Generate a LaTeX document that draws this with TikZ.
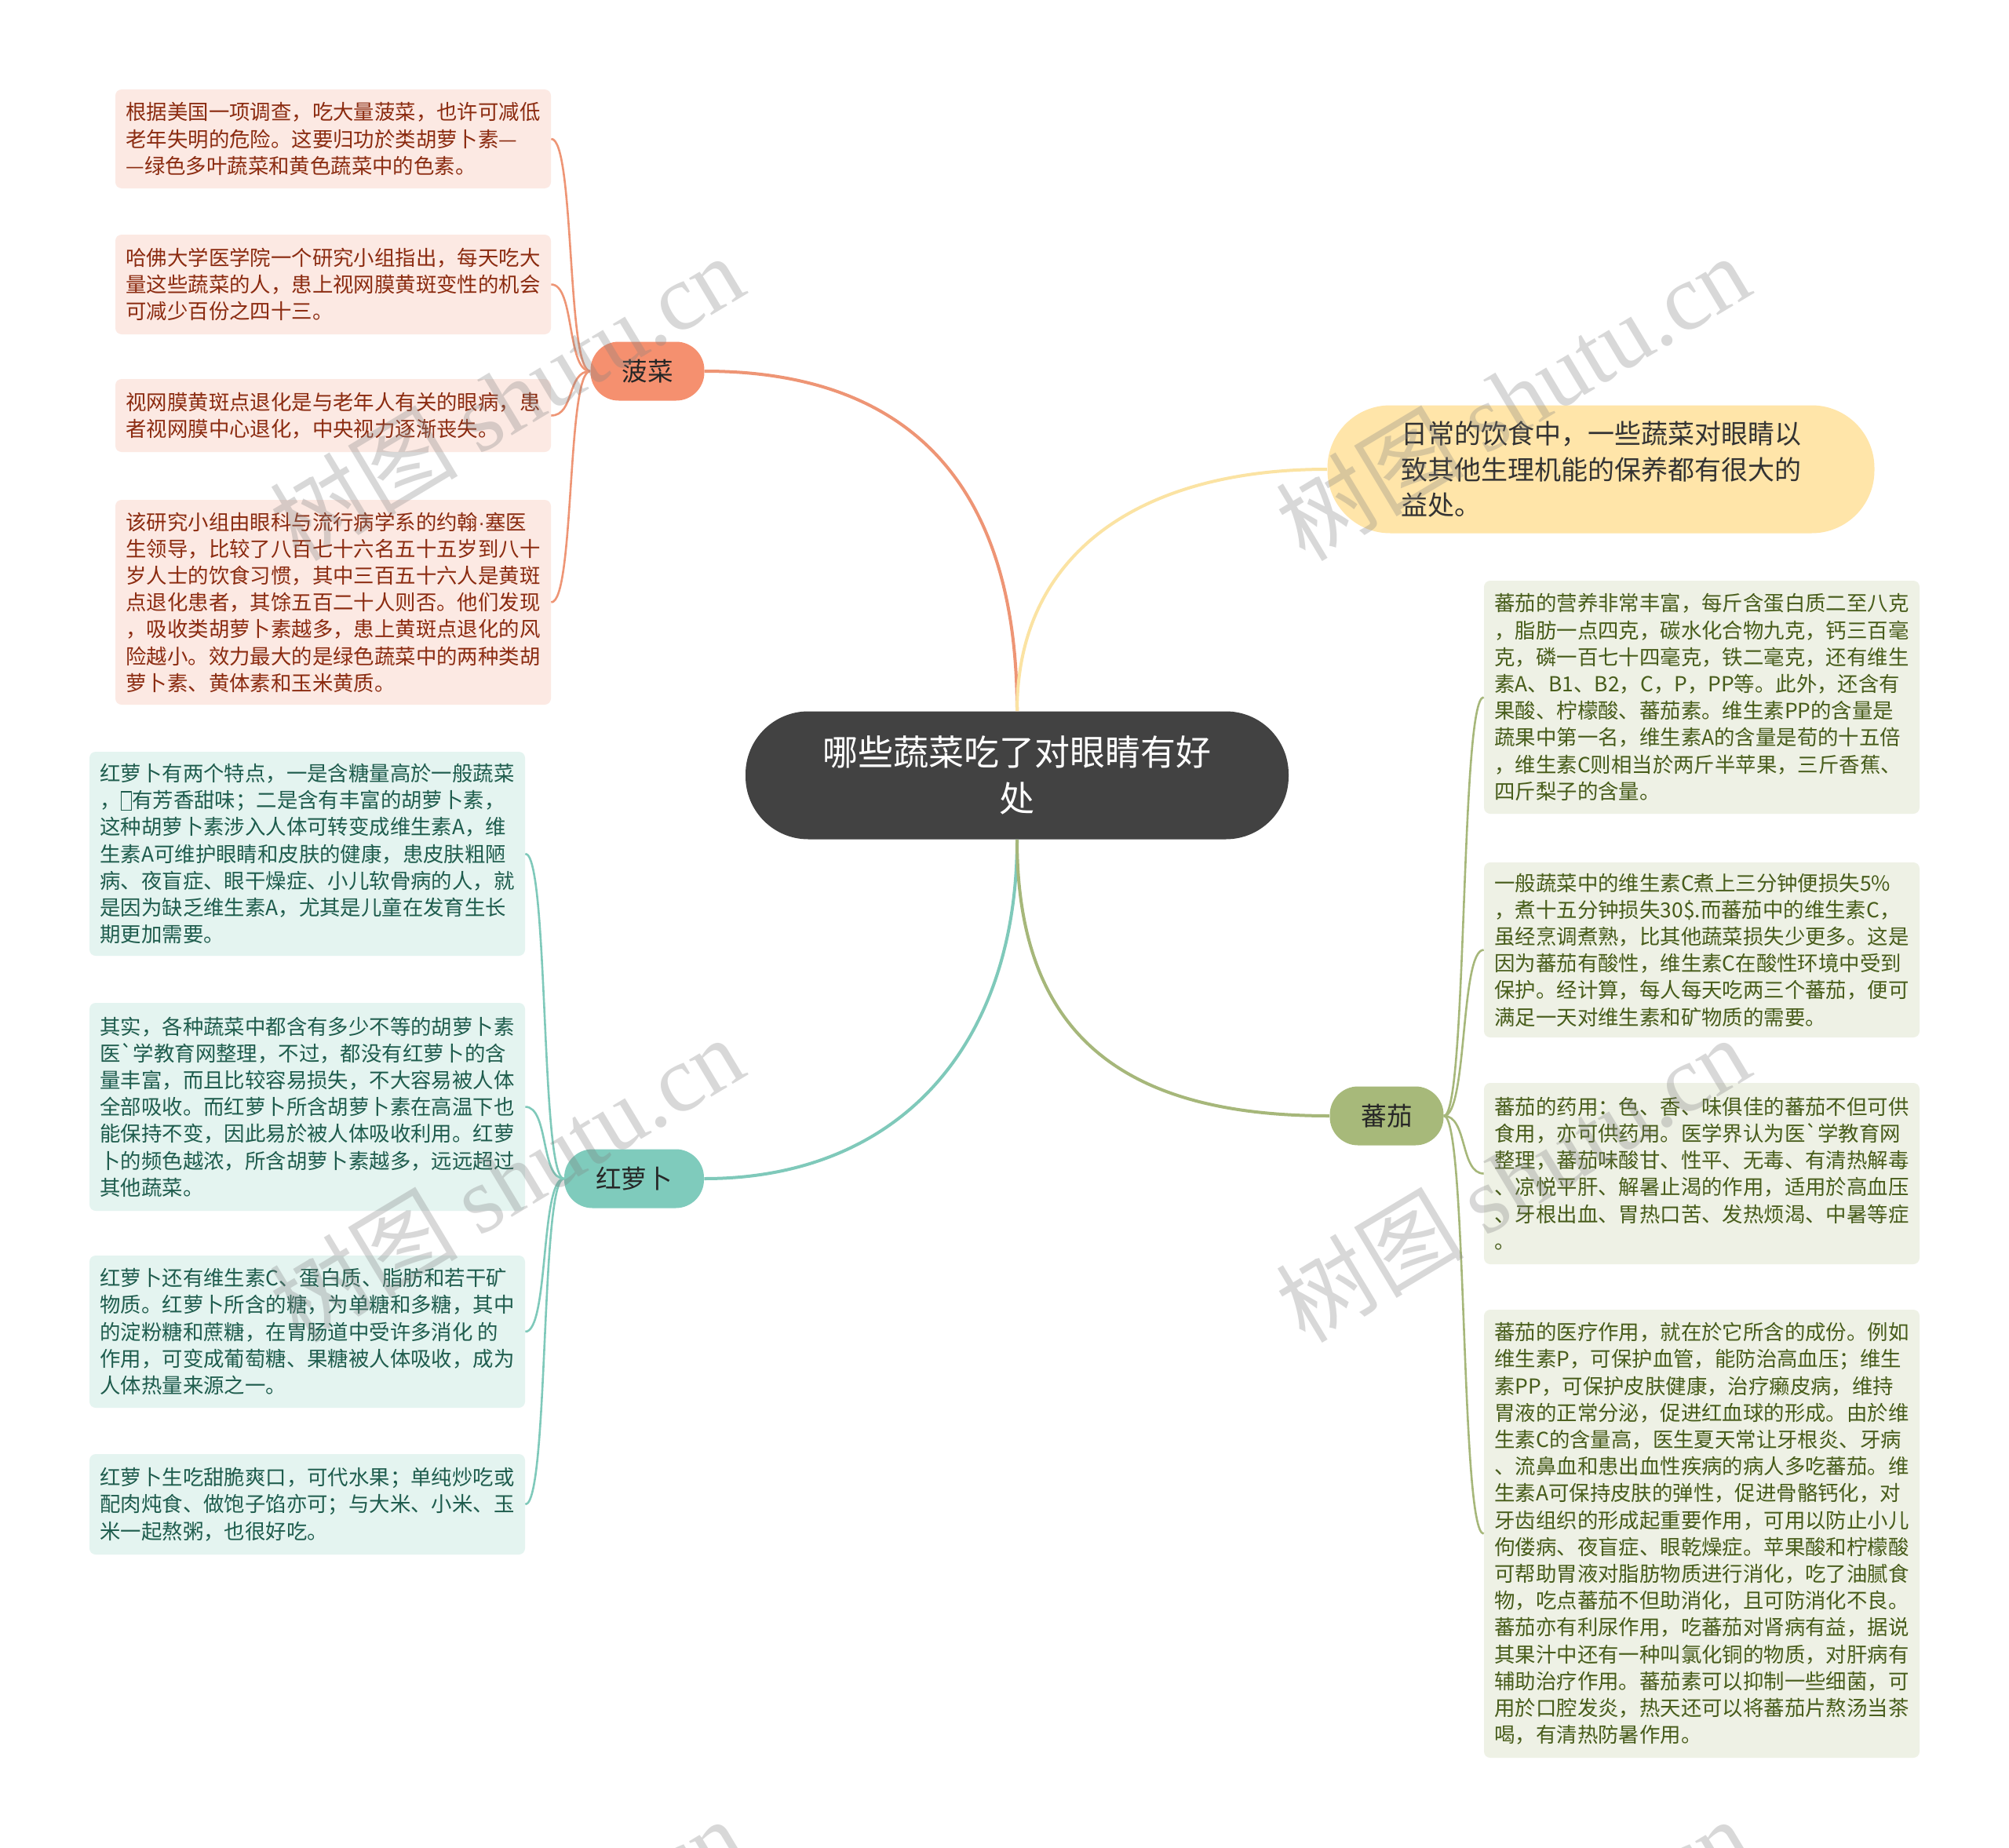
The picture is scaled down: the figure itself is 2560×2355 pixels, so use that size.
\documentclass[tikz,border=0pt]{standalone}
\usepackage{fontspec}
\setmainfont{Noto Sans CJK SC}[Ligatures=TeXOff]
\newfontfamily\wmfont{Liberation Serif}
\newfontfamily\latinfont{Liberation Sans}
\usepackage{xcolor}
\usepackage{tikz}

\definecolor{spinach}{HTML}{F5906F}
\definecolor{spinline}{HTML}{EE9575}
\definecolor{spinfill}{HTML}{FCE9E3}
\definecolor{spintext}{HTML}{8B2B10}
\definecolor{carrot}{HTML}{7FCBBC}
\definecolor{carrline}{HTML}{7FC9BA}
\definecolor{carrfill}{HTML}{E4F4F0}
\definecolor{carrtext}{HTML}{1E5C4D}
\definecolor{tomato}{HTML}{A7B97A}
\definecolor{tomline}{HTML}{A6B77A}
\definecolor{tomfill}{HTML}{EEF1E5}
\definecolor{tomtext}{HTML}{475C1A}
\definecolor{hubfill}{HTML}{424242}
\definecolor{notefill}{HTML}{FFE5A9}
\definecolor{noteline}{HTML}{FBE3A3}

\newcommand{\leaffont}{\fontsize{13.2pt}{17.1pt}\selectfont}
\newcommand{\hubfont}{\fontsize{22.5pt}{29.4pt}\selectfont}
\newcommand{\notefont}{\fontsize{17pt}{22.9pt}\selectfont}
\newcommand{\topicfont}{\fontsize{16.3pt}{20pt}\selectfont}
\newcommand{\tofu}{{\setlength{\fboxsep}{0pt}\setlength{\fboxrule}{0.6pt}\raisebox{-1pt}{\fbox{\rule{0pt}{11pt}\hspace{6pt}}}}}

\begin{document}
\begin{tikzpicture}[
  x=0.5pt, y=-0.5pt,
  hub/.style={fill=hubfill, text=white, rounded corners=40pt, minimum width=346pt,
              minimum height=81.5pt, align=center, font=\hubfont},
  note/.style={fill=notefill, text=black!80, rounded corners=40pt, minimum width=348.5pt,
               minimum height=81.5pt, align=left, font=\notefont},
  topic/.style={rounded corners=18pt, minimum height=37.5pt, inner xsep=0pt,
                text=black!85, font=\topicfont},
  spleaf/.style={fill=spinfill, text=spintext, rounded corners=4pt, minimum width=277.5pt,
                 align=left, font=\leaffont},
  caleaf/.style={fill=carrfill, text=carrtext, rounded corners=4pt, minimum width=277.5pt,
                 align=left, font=\leaffont},
  toleaf/.style={fill=tomfill, text=tomtext, rounded corners=4pt, minimum width=277.5pt,
                 align=left, font=\leaffont},
  link/.style={line width=2pt},
  twig/.style={line width=1.3pt},
  wmark/.style={text=gray, opacity=0.3, rotate=31, font=\fontsize{60pt}{60pt}\selectfont}
]
\fill[white] (0,0) rectangle (2560,2355);
\useasboundingbox (0,0) rectangle (2560,2355);
% centre and main topics
\node[hub] (hub) at (1296,988) {哪些蔬菜吃了对眼睛有好\\处};
\node[note] (note) at (2040,598) {日常的饮食中，一些蔬菜对眼睛以\\致其他生理机能的保养都有很大的\\益处。};
\node[topic, fill=spinach, minimum width=72.5pt] (spinach) at (825,473) {菠菜};
\node[topic, fill=carrot, minimum width=89pt] (carrot) at (808,1502) {红萝卜};
\node[topic, fill=tomato, minimum width=72.5pt] (tomato) at (1767,1422) {蕃茄};
\draw[link, draw=spinline] (hub.north) .. controls +(0,-300) and +(250,0) .. (spinach.east);
\draw[link, draw=noteline] (hub.north) .. controls +(0,-200) and +(-240,0) .. (note.west);
\draw[link, draw=carrline] (hub.south) .. controls +(0,260) and +(250,0) .. (carrot.east);
\draw[link, draw=tomline] (hub.south) .. controls +(0,260) and +(-250,0) .. (tomato.west);
% spinach leaves
\node[spleaf, minimum height=63pt] (s1) at (424.5,177) {根据美国一项调查，吃大量菠菜，也许可减低\\老年失明的危险。这要归功於类胡萝卜素—\\—绿色多叶蔬菜和黄色蔬菜中的色素。};
\node[spleaf, minimum height=63.5pt] (s2) at (424.5,362.5) {哈佛大学医学院一个研究小组指出，每天吃大\\量这些蔬菜的人，患上视网膜黄斑变性的机会\\可减少百份之四十三。};
\node[spleaf, minimum height=46.5pt] (s3) at (424.5,529.5) {视网膜黄斑点退化是与老年人有关的眼病，患\\者视网膜中心退化，中央视力逐渐丧失。};
\node[spleaf, minimum height=130.5pt] (s4) at (424.5,767.5) {该研究小组由眼科与流行病学系的约翰{\latinfont ·}塞医\\生领导，比较了八百七十六名五十五岁到八十\\岁人士的饮食习惯，其中三百五十六人是黄斑\\点退化患者，其馀五百二十人则否。他们发现\\，吸收类胡萝卜素越多，患上黄斑点退化的风\\险越小。效力最大的是绿色蔬菜中的两种类胡\\萝卜素、黄体素和玉米黄质。};
\draw[twig, draw=spinline] (spinach.west) .. controls +(-30,0) and +(30,0) .. (s1.east);
\draw[twig, draw=spinline] (spinach.west) .. controls +(-30,0) and +(30,0) .. (s2.east);
\draw[twig, draw=spinline] (spinach.west) .. controls +(-30,0) and +(30,0) .. (s3.east);
\draw[twig, draw=spinline] (spinach.west) .. controls +(-30,0) and +(30,0) .. (s4.east);
% carrot leaves
\node[caleaf, minimum height=130pt] (c1) at (391.5,1088) {红萝卜有两个特点，一是含糖量高於一般蔬菜\\，\tofu 有芳香甜味；二是含有丰富的胡萝卜素，\\这种胡萝卜素涉入人体可转变成维生素A，维\\生素A可维护眼睛和皮肤的健康，患皮肤粗陋\\病、夜盲症、眼干燥症、小儿软骨病的人，就\\是因为缺乏维生素A，尤其是儿童在发育生长\\期更加需要。};
\node[caleaf, minimum height=132.5pt] (c2) at (391.5,1410.5) {其实，各种蔬菜中都含有多少不等的胡萝卜素\\医`学教育网整理，不过，都没有红萝卜的含\\量丰富，而且比较容易损失，不大容易被人体\\全部吸收。而红萝卜所含胡萝卜素在高温下也\\能保持不变，因此易於被人体吸收利用。红萝\\卜的频色越浓，所含胡萝卜素越多，远远超过\\其他蔬菜。};
\node[caleaf, minimum height=97pt] (c3) at (391.5,1697) {红萝卜还有维生素C、蛋白质、脂肪和若干矿\\物质。红萝卜所含的糖，为单糖和多糖，其中\\的淀粉糖和蔗糖，在胃肠道中受许多消化 的\\作用，可变成葡萄糖、果糖被人体吸收，成为\\人体热量来源之一。};
\node[caleaf, minimum height=64pt] (c4) at (391.5,1917) {红萝卜生吃甜脆爽口，可代水果；单纯炒吃或\\配肉炖食、做饱子馅亦可；与大米、小米、玉\\米一起熬粥，也很好吃。};
\draw[twig, draw=carrline] (carrot.west) .. controls +(-30,0) and +(30,0) .. (c1.east);
\draw[twig, draw=carrline] (carrot.west) .. controls +(-30,0) and +(30,0) .. (c2.east);
\draw[twig, draw=carrline] (carrot.west) .. controls +(-30,0) and +(30,0) .. (c3.east);
\draw[twig, draw=carrline] (carrot.west) .. controls +(-30,0) and +(30,0) .. (c4.east);
% tomato leaves
\node[toleaf, minimum height=148.5pt] (t1) at (2168.5,888.5) {蕃茄的营养非常丰富，每斤含蛋白质二至八克\\，脂肪一点四克，碳水化合物九克，钙三百毫\\克，磷一百七十四毫克，铁二毫克，还有维生\\素A、B1、B2，C，P，PP等。此外，还含有\\果酸、柠檬酸、蕃茄素。维生素PP的含量是\\蔬果中第一名，维生素A的含量是荀的十五倍\\，维生素C则相当於两斤半苹果，三斤香蕉、\\四斤梨子的含量。};
\node[toleaf, minimum height=111.5pt] (t2) at (2168.5,1210.5) {一般蔬菜中的维生素C煮上三分钟便损失5\%\\，煮十五分钟损失30\$.而蕃茄中的维生素C，\\虽经烹调煮熟，比其他蔬菜损失少更多。这是\\因为蕃茄有酸性，维生素C在酸性环境中受到\\保护。经计算，每人每天吃两三个蕃茄，便可\\满足一天对维生素和矿物质的需要。};
\node[toleaf, minimum height=115.5pt] (t3) at (2168.5,1495.5) {蕃茄的药用：色、香、味俱佳的蕃茄不但可供\\食用，亦可供药用。医学界认为医`学教育网\\整理，蕃茄味酸甘、性平、无毒、有清热解毒\\、凉悦平肝、解暑止渴的作用，适用於高血压\\、牙根出血、胃热口苦、发热烦渴、中暑等症\\。};
\node[toleaf, minimum height=285.5pt] (t4) at (2168.5,1954.5) {蕃茄的医疗作用，就在於它所含的成份。例如\\维生素P，可保护血管，能防治高血压；维生\\素PP，可保护皮肤健康，治疗癞皮病，维持\\胃液的正常分泌，促进红血球的形成。由於维\\生素C的含量高，医生夏天常让牙根炎、牙病\\、流鼻血和患出血性疾病的病人多吃蕃茄。维\\生素A可保持皮肤的弹性，促进骨骼钙化，对\\牙齿组织的形成起重要作用，可用以防止小儿\\佝偻病、夜盲症、眼乾燥症。苹果酸和柠檬酸\\可帮助胃液对脂肪物质进行消化，吃了油腻食\\物，吃点蕃茄不但助消化，且可防消化不良。\\蕃茄亦有利尿作用，吃蕃茄对肾病有益，据说\\其果汁中还有一种叫氯化铜的物质，对肝病有\\辅助治疗作用。蕃茄素可以抑制一些细菌，可\\用於口腔发炎，热天还可以将蕃茄片熬汤当茶\\喝，有清热防暑作用。};
\draw[twig, draw=tomline] (tomato.east) .. controls +(30,0) and +(-30,0) .. (t1.west);
\draw[twig, draw=tomline] (tomato.east) .. controls +(30,0) and +(-30,0) .. (t2.west);
\draw[twig, draw=tomline] (tomato.east) .. controls +(30,0) and +(-30,0) .. (t3.west);
\draw[twig, draw=tomline] (tomato.east) .. controls +(30,0) and +(-30,0) .. (t4.west);
% watermarks
\begin{scope}
\clip (0,0) rectangle (2560,2355);
\node[wmark] (wm1) at (645,506) {树图 {\wmfont shutu.cn}};
\node[wmark] (wm2) at (1927,506) {树图 {\wmfont shutu.cn}};
\node[wmark] (wm3) at (645,1502) {树图 {\wmfont shutu.cn}};
\node[wmark] (wm4) at (1927,1502) {树图 {\wmfont shutu.cn}};
\node[wmark] (wm5) at (645,2498) {树图 {\wmfont shutu.cn}};
\node[wmark] (wm6) at (1927,2498) {树图 {\wmfont shutu.cn}};
\end{scope}
\end{tikzpicture}
\end{document}
